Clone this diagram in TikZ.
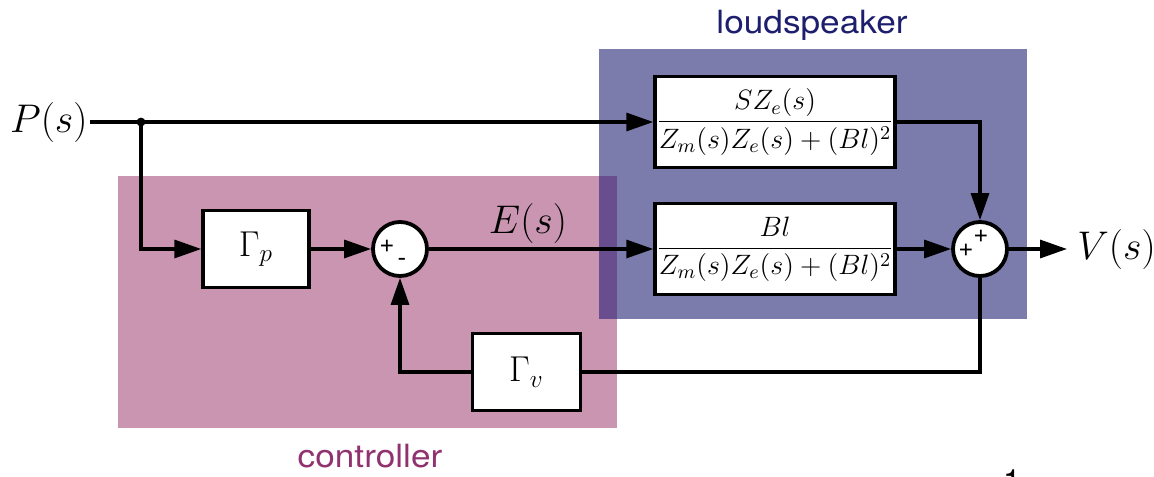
\RequirePackage{fix-cm}
\documentclass[tikz,border=0pt]{standalone}
\usepackage{fontspec}
\setsansfont{TeX Gyre Heros}
\usepackage{amsmath}
\usepackage{graphicx}
\usetikzlibrary{arrows.meta}
\definecolor{lsfill}{RGB}{124,124,172}
\definecolor{ctfill}{RGB}{201,149,177}
\definecolor{ovfill}{RGB}{104,78,142}
\definecolor{lstext}{RGB}{30,30,110}
\definecolor{cttext}{RGB}{145,50,112}
\tikzset{
  wire/.style={line width=1.6pt},
  arr/.style={wire,-{Triangle[length=13.5pt,width=9pt]}},
  blk/.style={draw,line width=1.7pt,fill=white,inner sep=0pt},
  sumc/.style={draw,circle,line width=1.9pt,fill=white,minimum size=27pt,inner sep=0pt},
  sgn/.style={font=\sffamily\fontsize{13}{14}\selectfont,inner sep=0pt},
  bigmath/.style={font=\fontsize{20}{24}\selectfont},
  gmath/.style={font=\fontsize{18}{22}\selectfont},
  fmath/.style={font=\fontsize{14}{17}\selectfont},
  grouplbl/.style={font=\sffamily\fontsize{16}{18}\selectfont,inner sep=0pt}
}
\begin{document}
\begin{tikzpicture}[x=0.5pt,y=-0.5pt]
\useasboundingbox (0,0) rectangle (1154,476);
% group backgrounds
\fill[ctfill] (118,176) rectangle (617,428);
\fill[lsfill] (599,49) rectangle (1027,319);
\fill[ovfill] (599,176) rectangle (617,319);
\node[grouplbl,text=lstext] (lslbl) at (812,25.5) {\scalebox{1.1}[1]{loudspeaker}};
\node[grouplbl,text=cttext] (ctlbl) at (370,456) {\scalebox{1.1}[1]{controller}};
% blocks
\node[blk,minimum width=120pt,minimum height=45.5pt,fmath] (b1) at (775,122)
  {$\dfrac{SZ_e(s)}{Z_m(s)Z_e(s)+(Bl)^2}$};
\node[blk,minimum width=120pt,minimum height=45.5pt,fmath] (b2) at (775,249)
  {$\dfrac{Bl}{Z_m(s)Z_e(s)+(Bl)^2}$};
\node[blk,minimum width=53pt,minimum height=38.5pt,gmath] (gp) at (256,249) {$\Gamma_p$};
\node[blk,minimum width=54pt,minimum height=38.5pt,gmath] (gv) at (526.5,372) {$\Gamma_v$};
\node[sumc] (s1) at (400,249) {};
\node[sumc] (s2) at (980,249) {};
\node[sgn] (s1p) at (387,246) {+};
\node[sgn] (s1m) at (402,262) {-};
\node[sgn] (s2l) at (966,250) {+};
\node[sgn] (s2t) at (981,236) {+};
% signals
\node[bigmath,anchor=east,inner sep=1pt] (P) at (90,122) {$P(s)$};
\node[bigmath,anchor=west,inner sep=5pt] (V) at (1067,249) {$V(s)$};
\node[bigmath,inner sep=0pt] (E) at (528,223) {$E(s)$};
\coordinate (j) at (141,122);
% connectors
\draw[wire] (P.east) -- (j);
\draw[arr] (j) -- (b1.west);
\draw[arr] (j) |- (gp.west);
\fill (j) circle (2.2pt);
\draw[arr] (gp.east) -- (s1.west);
\draw[arr] (s1.east) -- (b2.west);
\draw[arr] (b1.east) -| (s2.north);
\draw[arr] (b2.east) -- (s2.west);
\draw[arr] (s2.east) -- (V.west);
\draw[wire] (s2.south) |- (gv.east);
\draw[arr] (gv.west) -| (s1.south);
% page number fragment
\node[font=\sffamily\fontsize{16}{18}\selectfont,inner sep=0pt] (pg) at (1012,481) {1};
\end{tikzpicture}
\end{document}
